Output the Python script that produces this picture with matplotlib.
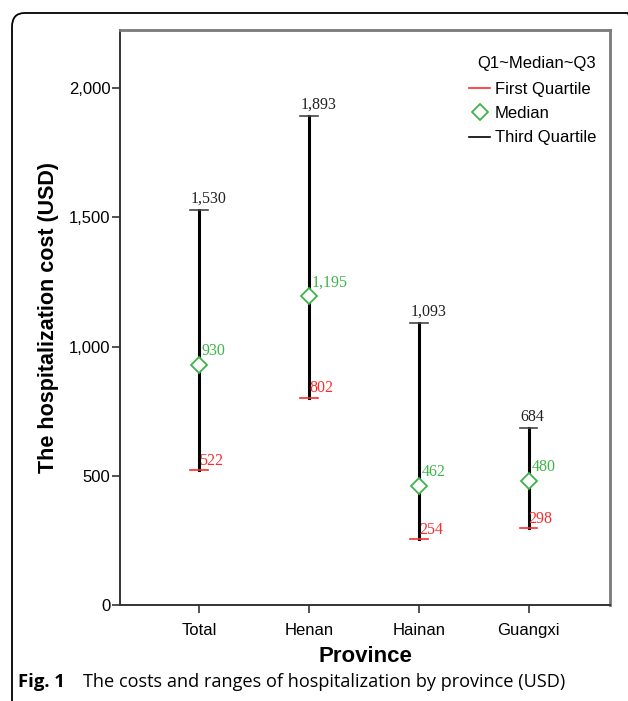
import matplotlib
matplotlib.use('Agg')
import matplotlib.pyplot as plt
from matplotlib.lines import Line2D
from matplotlib.patches import FancyBboxPatch
import numpy as np

# values
provinces = ['Total', 'Henan', 'Hainan', 'Guangxi']
q1 = [522, 802, 254, 298]
median = [930, 1195, 462, 480]
q3 = [1530, 1893, 1093, 684]
q1_labels = ['522', '802', '254', '298']
median_labels = ['930', '1,195', '462', '480']
q3_labels = ['1,530', '1,893', '1,093', '684']
yticks = [0, 500, 1000, 1500, 2000]
ytick_labels = ['0', '500', '1,000', '1,500', '2,000']

RED = '#ff2a2a'
GREEN = '#3db54a'
SANS = 'Liberation Sans'
SERIF = 'Liberation Serif'

plt.rcParams['font.family'] = SANS

fig = plt.figure(figsize=(6.28, 7.01), dpi=100)
ax = fig.add_axes([120/628, 1-605/701, 490/628, 575/701])

x = np.arange(len(provinces))
cap = 0.08

for i in x:
    ax.plot([i, i], [q1[i], q3[i]], color='black', lw=2.2, zorder=2)
    ax.plot([i-cap, i+cap], [q3[i], q3[i]], color='#444444', lw=1.2, zorder=2)
    ax.plot([i-cap, i+cap], [q1[i], q1[i]], color=RED, lw=1.2, zorder=2)
    ax.plot(i, median[i], marker='D', ms=8, mfc='white', mec=GREEN, mew=1.3, zorder=3)

    ax.annotate(q3_labels[i], (i, q3[i]), xytext=(-6, 2), textcoords='offset points',
                ha='left', va='bottom', fontsize=11.5, family=SERIF, color='#222222')
    ax.annotate(median_labels[i], (i, median[i]), xytext=(2, 4), textcoords='offset points',
                ha='left', va='bottom', fontsize=11.5, family=SERIF, color=GREEN)
    ax.annotate(q1_labels[i], (i, q1[i]), xytext=(0, 1), textcoords='offset points',
                ha='left', va='bottom', fontsize=11.5, family=SERIF, color=RED)

ax.set_xlim(-0.72, 3.74)
ax.set_ylim(0, 2225)
ax.set_xticks(x)
ax.set_xticklabels(provinces, fontsize=12)
ax.set_yticks(yticks)
ax.set_yticklabels(ytick_labels, fontsize=12)
ax.tick_params(axis='both', direction='out', length=6, width=1.2, color='#333333')
ax.tick_params(axis='x', pad=7)
ax.tick_params(axis='y', pad=1)

for side in ['left', 'bottom']:
    ax.spines[side].set_color('#333333')
    ax.spines[side].set_linewidth(1.4)
for side in ['top', 'right']:
    ax.spines[side].set_color('#7a7a7a')
    ax.spines[side].set_linewidth(2)

ax.set_ylabel('The hospitalization cost (USD)', fontsize=15.5, fontweight='bold', labelpad=7)
ax.set_xlabel('Province', fontsize=16, fontweight='bold', labelpad=6)

# legend
handles = [Line2D([0], [0], color=RED, lw=1.2),
           Line2D([0], [0], marker='D', ls='', ms=8, mfc='white', mec=GREEN, mew=1.3),
           Line2D([0], [0], color='black', lw=1.2)]
leg = ax.legend(handles, ['First Quartile', 'Median', 'Third Quartile'],
                title='Q1~Median~Q3', loc='upper right', frameon=False,
                fontsize=12, title_fontsize=12, handlelength=1.3, handletextpad=0.25,
                labelspacing=0.55, borderaxespad=0.3, bbox_to_anchor=(0.995, 0.975))
leg._legend_box.align = 'right'
leg._legend_box.sep = 8

# outer rounded frame
frame = FancyBboxPatch((12/628, -0.05), 1.0, 1-13/701+0.05,
                       boxstyle='round,pad=0,rounding_size=0.02',
                       transform=fig.transFigure, fill=False, ec='black', lw=1.3,
                       clip_on=False)
fig.patches.append(frame)

# caption
fig.text(18/628, 1-682/701, 'Fig. 1', fontsize=13.3, fontweight='bold',
         family='Open Sans', va='center', ha='left')
fig.text(83/628, 1-682/701, 'The costs and ranges of hospitalization by province (USD)',
         fontsize=13.1, family='Open Sans', va='center', ha='left')

plt.savefig('out.png', dpi=100)
